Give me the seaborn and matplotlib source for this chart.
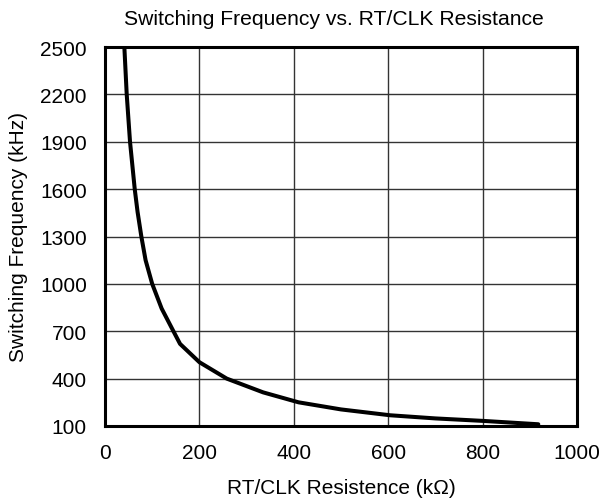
import matplotlib
matplotlib.use("Agg")
import matplotlib.pyplot as plt
import seaborn as sns
import pandas as pd

resistance_kohm = [41, 46, 53, 63, 69, 77, 86, 100, 120, 145, 159, 200, 258, 335, 410, 500, 604, 700, 803, 918]
frequency_khz = [2500, 2200, 1900, 1600, 1456, 1300, 1150, 1000, 844, 700, 620, 504, 400, 313, 250, 205, 168, 148, 132, 111]
x_ticks = [0, 200, 400, 600, 800, 1000]
y_ticks = [100, 400, 700, 1000, 1300, 1600, 1900, 2200, 2500]

sns.set_style("whitegrid")
plt.rcParams['font.family'] = ['Liberation Sans', 'DejaVu Sans']
plt.rcParams['text.color'] = 'black'
plt.rcParams['axes.labelcolor'] = 'black'

df = pd.DataFrame({"R": resistance_kohm, "f": frequency_khz})

fig = plt.figure(figsize=(6.03, 5.02), dpi=100)
ax = fig.add_axes([105/603, 1 - 427/502, (577-105)/603, (427-48)/502])
sns.lineplot(data=df, x="R", y="f", ax=ax, color="black", linewidth=2.9, sort=False)

ax.set_xlim(0, 1000)
ax.set_ylim(100, 2500)
ax.set_xticks(x_ticks)
ax.set_yticks(y_ticks)
ax.grid(True, color="#333333", linewidth=1.0)
for s in ax.spines.values():
    s.set_color("black")
    s.set_linewidth(2.2)
    s.set_visible(True)
fs = 15
ax.tick_params(axis="both", length=0, labelsize=fs, colors="black")
ax.tick_params(axis="y", pad=13)
ax.tick_params(axis="x", pad=12.5)
ax.set_xlabel("RT/CLK Resistence (kΩ)", fontsize=fs, labelpad=11.5)
ax.set_ylabel("Switching Frequency (kHz)", fontsize=fs, labelpad=9)
ax.set_title("Switching Frequency vs. RT/CLK Resistance", fontsize=15.2, pad=16.5, x=0.484)

fig.savefig("out.png", dpi=100)
